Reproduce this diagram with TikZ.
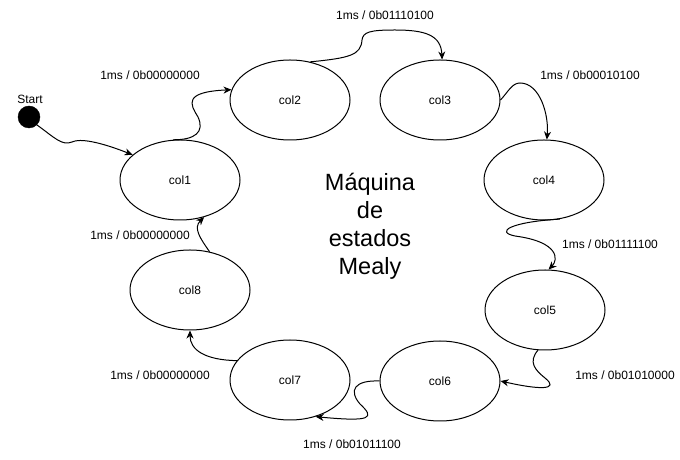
\documentclass[tikz,border=0pt]{standalone}
\usepackage{fontspec}
\setmainfont{Liberation Sans}
\usetikzlibrary{shapes.geometric,arrows.meta}

\begin{document}
\begin{tikzpicture}[x=1pt, y=1pt,
        colstate/.style={ellipse, draw=black, line width=1pt, minimum width=120pt, minimum height=80pt, inner sep=0pt, font=\fontsize{12}{14}\selectfont},
        trlabel/.style={font=\fontsize{12}{14}\selectfont},
        trans/.style={line width=1pt,->,>={Stealth[length=8pt,width=7pt,inset=2.5pt]}}]
    \useasboundingbox (0,0) rectangle (680,460);

    \node (start) [circle, fill=black, draw=black, minimum size=22pt, inner sep=0pt] at (29,343) {};
    \node (startlbl) [trlabel] at (30,361) {Start};

    \node (col1) [colstate] at (180,280) {col1};
    \node (col2) [colstate] at (290,360) {col2};
    \node (col3) [colstate] at (440,360) {col3};
    \node (col4) [colstate] at (544,280) {col4};
    \node (col5) [colstate] at (545,150) {col5};
    \node (col6) [colstate] at (440,79) {col6};
    \node (col7) [colstate] at (290,80) {col7};
    \node (col8) [colstate] at (190,170) {col8};

    \node (title) [align=center, font=\fontsize{23.5}{28}\selectfont] at (370,234) {Máquina\\de\\estados\\Mealy};

    \node (l12) [trlabel] at (150,385) {1ms / 0b00000000};
    \node (l23) [trlabel] at (385,445) {1ms / 0b01110100};
    \node (l34) [trlabel] at (590,385) {1ms / 0b00010100};
    \node (l45) [trlabel] at (610,216) {1ms / 0b01111100};
    \node (l56) [trlabel] at (625,85) {1ms / 0b01010000};
    \node (l67) [trlabel] at (352,16) {1ms / 0b01011100};
    \node (l78) [trlabel] at (160,85) {1ms / 0b00000000};
    \node (l81) [trlabel] at (140,225) {1ms / 0b00000000};

    \draw [trans] (start.-45) .. controls (55,322) and (62,314) .. (72,318) .. controls (80,322) and (100,318) .. (col1.152);
    \draw [trans] (col1.100) .. controls (195,320) and (205,328) .. (198,343) .. controls (190,356) and (183,368) .. (col2.170);
    \draw [trans] (col2.62) .. controls (350,402) and (361,405) .. (362,420) .. controls (363,428) and (370,430) .. (395,430) .. controls (425,430) and (441,425) .. (col3.87);
    \draw [trans] (col3.east) .. controls (508,368) and (512,377) .. (520,377) .. controls (540,377) and (549,345) .. (col4.86);
    \draw [trans] (col4.-68) .. controls (510,238) and (495,228) .. (515,224) .. controls (560,218) and (558,200) .. (col5.85);
    \draw [trans] (col5.260) .. controls (528,98) and (535,90) .. (545,82) .. controls (560,70) and (540,70) .. (col6.east);
    \draw [trans] (col6.west) .. controls (355,80) and (348,70) .. (360,56) .. controls (375,42) and (372,38) .. (col7.-55);
    \draw [trans] (col7.160) .. controls (205,100) and (190,110) .. (col8.south);
    \draw [trans] (col8.63) .. controls (200,222) and (193,232) .. (col1.-57);
\end{tikzpicture}
\end{document}
